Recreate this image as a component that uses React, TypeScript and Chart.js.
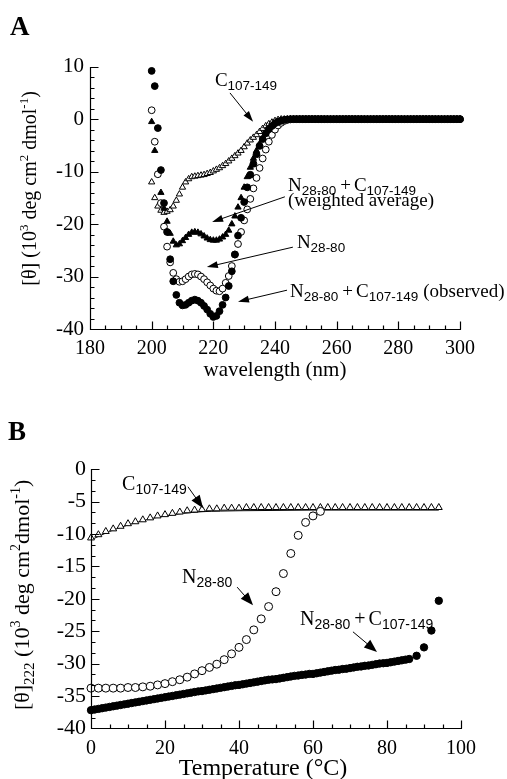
import React, { useEffect, useRef } from "react";
import { Chart, registerables } from "chart.js";

Chart.register(...registerables);

// ---------------- Panel A data (CD spectra, 200..300 nm, 1 nm steps) ----------------
const wavelengths = Array.from({ length: 101 }, (_, i) => 200 + i);

const c107Spectrum = [
  -12.0, -15.0, -16.6, -17.4, -17.8, -17.6, -17.3, -16.6, -15.5, -14.3,
  -13.0, -12.0, -11.4, -11.0, -10.9, -10.8, -10.7, -10.6, -10.4, -10.2,
  -9.9, -9.6, -9.3, -8.9, -8.5, -8.0, -7.5, -7.0, -6.5, -6.0,
  -5.3, -4.6, -4.0, -3.5, -3.0, -2.4, -1.8, -1.3, -0.9, -0.6,
  -0.3, -0.1, 0, 0, 0, 0, 0, 0, 0, 0,
  0, 0, 0, 0, 0, 0, 0, 0, 0, 0,
  0, 0, 0, 0, 0, 0, 0, 0, 0, 0,
  0, 0, 0, 0, 0, 0, 0, 0, 0, 0,
  0, 0, 0, 0, 0, 0, 0, 0, 0, 0,
  0, 0, 0, 0, 0, 0, 0, 0, 0, 0,
  0,
];

const weightedSpectrum = [
  -0.5, -6.0, -10.5, -14.0, -17.0, -19.5, -21.8, -23.3, -24.0, -23.8,
  -23.2, -22.6, -22.0, -21.6, -21.5, -21.6, -21.9, -22.3, -22.7, -23.0,
  -23.1, -23.1, -22.9, -22.5, -22.0, -21.2, -20.0, -18.5, -16.8, -15.0,
  -13.0, -11.0, -9.2, -7.5, -6.0, -4.7, -3.6, -2.7, -1.9, -1.3,
  -0.8, -0.5, -0.3, -0.15, -0.05, 0, 0, 0, 0, 0,
  0, 0, 0, 0, 0, 0, 0, 0, 0, 0,
  0, 0, 0, 0, 0, 0, 0, 0, 0, 0,
  0, 0, 0, 0, 0, 0, 0, 0, 0, 0,
  0, 0, 0, 0, 0, 0, 0, 0, 0, 0,
  0, 0, 0, 0, 0, 0, 0, 0, 0, 0,
  0,
];

const n2880Spectrum = [
  1.7, -4.3, -10.5, -16.0, -20.5, -24.3, -27.3, -29.3, -30.5, -31.0,
  -30.9, -30.5, -30.0, -29.6, -29.5, -29.6, -30.0, -30.5, -31.1, -31.7,
  -32.3, -32.7, -32.8, -32.3, -31.2, -29.9, -28.0, -25.8, -23.8, -21.5,
  -19.3, -17.2, -15.2, -13.2, -11.2, -9.3, -7.5, -5.8, -4.3, -3.0,
  -2.0, -1.2, -0.7, -0.35, -0.15, -0.05, 0, 0, 0, 0,
  0, 0, 0, 0, 0, 0, 0, 0, 0, 0,
  0, 0, 0, 0, 0, 0, 0, 0, 0, 0,
  0, 0, 0, 0, 0, 0, 0, 0, 0, 0,
  0, 0, 0, 0, 0, 0, 0, 0, 0, 0,
  0, 0, 0, 0, 0, 0, 0, 0, 0, 0,
  0,
];

const observedSpectrum = [
  9.2, 6.3, -1.7, -9.7, -16.0, -21.5, -26.7, -30.9, -33.5, -35.0,
  -35.5, -35.4, -35.0, -34.6, -34.4, -34.6, -35.0, -35.6, -36.3, -37.1,
  -37.7, -37.5, -36.6, -35.4, -34.0, -31.8, -29.0, -25.8, -22.2, -18.8,
  -15.8, -13.0, -10.6, -8.5, -6.7, -5.1, -3.8, -2.7, -1.9, -1.3,
  -0.8, -0.5, -0.3, -0.15, -0.05, 0, 0, 0, 0, 0,
  0, 0, 0, 0, 0, 0, 0, 0, 0, 0,
  0, 0, 0, 0, 0, 0, 0, 0, 0, 0,
  0, 0, 0, 0, 0, 0, 0, 0, 0, 0,
  0, 0, 0, 0, 0, 0, 0, 0, 0, 0,
  0, 0, 0, 0, 0, 0, 0, 0, 0, 0,
  0,
];

// ---------------- Panel B data (thermal melts at 222 nm) ----------------
const c107Temps = [
  0, 2, 4, 6, 8, 10, 12, 14, 16, 18, 20, 22, 24, 26, 28, 30, 32, 34, 36, 38,
  40, 42, 44, 46, 48, 50, 52, 54, 56, 58, 60, 62, 64, 66, 68, 70, 72, 74, 76,
  78, 80, 82, 84, 86, 88, 90, 92, 94,
];
const c107Melt = [
  -10.6, -10.1, -9.6, -9.2, -8.8, -8.4, -8.1, -7.8, -7.5, -7.2,
  -7.0, -6.8, -6.6, -6.4, -6.3, -6.2, -6.1, -6.1, -6.0, -6.0,
  -6.0, -5.9, -5.9, -5.9, -5.9, -5.9, -5.9, -5.9, -5.9, -5.9,
  -5.9, -5.9, -5.9, -5.9, -5.9, -5.9, -5.9, -5.9, -5.9, -5.9,
  -5.9, -5.9, -5.9, -5.9, -5.9, -5.9, -5.9, -5.9,
];
const c107FitTemps = [0, 5, 10, 15, 20, 25, 30, 35, 40, 50, 60, 70, 80, 94];
const c107FitValues = [-10.9, -9.6, -8.6, -7.8, -7.2, -6.8, -6.55, -6.45, -6.4, -6.35, -6.3, -6.3, -6.3, -6.3];

const n2880Temps = [
  0, 2, 4, 6, 8, 10, 12, 14, 16, 18, 20, 22, 24, 26, 28, 30, 32, 34, 36, 38,
  40, 42, 44, 46, 48, 50, 52, 54, 56, 58, 60, 62,
];
const n2880Melt = [
  -33.8, -33.8, -33.8, -33.8, -33.8, -33.7, -33.7, -33.6, -33.5, -33.3,
  -33.1, -32.8, -32.5, -32.1, -31.6, -31.1, -30.6, -30.1, -29.4, -28.5,
  -27.5, -26.3, -24.8, -23.1, -21.2, -18.9, -16.1, -13.0, -10.2, -8.2,
  -7.2, -6.5,
];

const observedTemps = [
  0, 1, 2, 3, 4, 5, 6, 7, 8, 9, 10, 11, 12, 13, 14, 15, 16, 17, 18, 19,
  20, 21, 22, 23, 24, 25, 26, 27, 28, 29, 30, 31, 32, 33, 34, 35, 36, 37, 38, 39,
  40, 41, 42, 43, 44, 45, 46, 47, 48, 49, 50, 51, 52, 53, 54, 55, 56, 57, 58, 59,
  60, 61, 62, 63, 64, 65, 66, 67, 68, 69, 70, 71, 72, 73, 74, 75, 76, 77, 78, 79,
  80, 81, 82, 83, 84, 85, 86, 88, 90, 92, 94,
];
const observedMelt = [
  -37.2, -37.1, -37.0, -36.9, -36.8, -36.7, -36.6, -36.5, -36.4, -36.3,
  -36.2, -36.1, -36.0, -35.9, -35.8, -35.7, -35.6, -35.5, -35.4, -35.3,
  -35.2, -35.1, -35.0, -34.9, -34.8, -34.7, -34.6, -34.5, -34.4, -34.3,
  -34.25, -34.15, -34.05, -33.95, -33.85, -33.75, -33.65, -33.55, -33.45, -33.35,
  -33.3, -33.2, -33.1, -33.0, -32.9, -32.8, -32.7, -32.6, -32.5, -32.45,
  -32.4, -32.3, -32.2, -32.1, -32.0, -31.9, -31.85, -31.75, -31.7, -31.6,
  -31.6, -31.5, -31.4, -31.3, -31.2, -31.1, -31.0, -30.95, -30.85, -30.8,
  -30.7, -30.6, -30.5, -30.45, -30.35, -30.3, -30.2, -30.1, -30.0, -29.95,
  -29.9, -29.8, -29.7, -29.6, -29.5, -29.4, -29.3, -28.8, -27.5, -24.9,
  -20.3,
];

// ---------------- drawing helpers ----------------
const SERIF = '"Liberation Serif", "Times New Roman", serif';
const SANS = '"Liberation Sans", Arial, sans-serif';

type Seg = { t: string; f: string; dy?: number; dx?: number };

function drawRich(
  ctx: CanvasRenderingContext2D,
  segs: Seg[],
  x: number,
  y: number,
  align: "left" | "center",
  rot = 0
) {
  ctx.save();
  ctx.translate(x, y);
  if (rot) ctx.rotate(rot);
  ctx.fillStyle = "#000";
  ctx.textAlign = "left";
  ctx.textBaseline = "alphabetic";
  let total = 0;
  for (const s of segs) {
    ctx.font = s.f;
    total += (s.dx || 0) + ctx.measureText(s.t).width;
  }
  let cx = align === "center" ? -total / 2 : 0;
  for (const s of segs) {
    ctx.font = s.f;
    cx += s.dx || 0;
    ctx.fillText(s.t, cx, s.dy || 0);
    cx += ctx.measureText(s.t).width;
  }
  ctx.restore();
}

function drawArrow(
  ctx: CanvasRenderingContext2D,
  x1: number,
  y1: number,
  x2: number,
  y2: number,
  head: number,
  hw: number
) {
  const a = Math.atan2(y2 - y1, x2 - x1);
  const c = Math.cos(a);
  const s = Math.sin(a);
  ctx.save();
  ctx.strokeStyle = "#000";
  ctx.fillStyle = "#000";
  ctx.lineWidth = 1;
  ctx.beginPath();
  ctx.moveTo(x1, y1);
  ctx.lineTo(x2 - c * head * 0.7, y2 - s * head * 0.7);
  ctx.stroke();
  ctx.beginPath();
  ctx.moveTo(x2, y2);
  ctx.lineTo(x2 - c * head - s * hw, y2 - s * head + c * hw);
  ctx.lineTo(x2 - c * head + s * hw, y2 - s * head - c * hw);
  ctx.closePath();
  ctx.fill();
  ctx.restore();
}

type AxisSpec = {
  xMin: number;
  xMax: number;
  xMajor: number;
  xMinor: number;
  yMin: number;
  yMax: number;
  yMajor: number;
  yMinor: number;
};

function drawAxes(chart: any, spec: AxisSpec) {
  const { ctx, chartArea: ca, scales } = chart;
  const xs = scales.x;
  const ys = scales.y;
  const L = Math.round(ca.left) + 0.5;
  const B = Math.round(ca.bottom) + 0.5;
  ctx.save();
  ctx.strokeStyle = "#000";
  ctx.lineWidth = 1.2;
  ctx.beginPath();
  ctx.moveTo(L, Math.round(ca.top));
  ctx.lineTo(L, B);
  ctx.lineTo(Math.round(ca.right) + 1, B);
  const nx = Math.round((spec.xMax - spec.xMin) / spec.xMinor);
  for (let i = 0; i <= nx; i++) {
    const v = spec.xMin + i * spec.xMinor;
    const isMajor = Math.abs(v / spec.xMajor - Math.round(v / spec.xMajor)) < 1e-6;
    const px = Math.round(xs.getPixelForValue(v)) + 0.5;
    ctx.moveTo(px, B);
    ctx.lineTo(px, B - (isMajor ? 8 : 4));
  }
  const ny = Math.round((spec.yMax - spec.yMin) / spec.yMinor);
  for (let i = 0; i <= ny; i++) {
    const v = spec.yMin + i * spec.yMinor;
    const isMajor = Math.abs(v / spec.yMajor - Math.round(v / spec.yMajor)) < 1e-6;
    const py = Math.round(ys.getPixelForValue(v)) + 0.5;
    ctx.moveTo(L, py);
    ctx.lineTo(L + (isMajor ? 8 : 4), py);
  }
  ctx.stroke();
  ctx.restore();
}

type Label = { segs: Seg[]; x: number; y: number };
type Arrow = { x1: number; y1: number; x2: number; y2: number };

function overlayPlugin(
  spec: AxisSpec,
  labels: Label[],
  arrows: Arrow[],
  head: number,
  hw: number,
  extra: (chart: any) => void
) {
  return {
    id: "overlay",
    afterDraw(chart: any) {
      drawAxes(chart, spec);
      const { ctx, scales } = chart;
      const X = (v: number) => scales.x.getPixelForValue(v);
      const Y = (v: number) => scales.y.getPixelForValue(v);
      for (const l of labels) drawRich(ctx, l.segs, X(l.x), Y(l.y), "left");
      for (const a of arrows) drawArrow(ctx, X(a.x1), Y(a.y1), X(a.x2), Y(a.y2), head, hw);
      extra(chart);
    },
  };
}

const annA = `19px ${SERIF}`;
const subA = `13.5px ${SANS}`;
const annB = `20px ${SERIF}`;
const subB = `14px ${SANS}`;

const labelsA: Label[] = [
  { x: 220.5, y: 6.3, segs: [{ t: "C", f: annA }, { t: "107-149", f: subA, dy: 4 }] },
  {
    x: 244.2,
    y: -13.7,
    segs: [
      { t: "N", f: annA },
      { t: "28-80", f: subA, dy: 4 },
      { t: "+", f: annA, dx: 4 },
      { t: "C", f: annA, dx: 3 },
      { t: "107-149", f: subA, dy: 4 },
    ],
  },
  { x: 244.2, y: -16.6, segs: [{ t: "(weighted average)", f: annA }] },
  { x: 247.1, y: -24.6, segs: [{ t: "N", f: annA }, { t: "28-80", f: subA, dy: 4 }] },
  {
    x: 244.9,
    y: -33.9,
    segs: [
      { t: "N", f: annA },
      { t: "28-80", f: subA, dy: 4 },
      { t: "+", f: annA, dx: 4 },
      { t: "C", f: annA, dx: 3 },
      { t: "107-149", f: subA, dy: 4 },
      { t: "(observed)", f: annA, dx: 5 },
    ],
  },
];
const arrowsA: Arrow[] = [
  { x1: 225.4, y1: 5.0, x2: 232.9, y2: -0.5 },
  { x1: 243.2, y1: -14.8, x2: 219.6, y2: -19.6 },
  { x1: 245.8, y1: -24.4, x2: 217.9, y2: -28.2 },
  { x1: 243.9, y1: -32.6, x2: 228.0, y2: -34.8 },
];

const labelsB: Label[] = [
  { x: 8.4, y: -3.2, segs: [{ t: "C", f: annB }, { t: "107-149", f: subB, dy: 4 }] },
  { x: 24.6, y: -17.6, segs: [{ t: "N", f: annB }, { t: "28-80", f: subB, dy: 4 }] },
  {
    x: 56.5,
    y: -24.0,
    segs: [
      { t: "N", f: annB },
      { t: "28-80", f: subB, dy: 4 },
      { t: "+", f: annB, dx: 4 },
      { t: "C", f: annB, dx: 3 },
      { t: "107-149", f: subB, dy: 4 },
    ],
  },
];
const arrowsB: Arrow[] = [
  { x1: 26.2, y1: -2.7, x2: 30.3, y2: -6.0 },
  { x1: 39.5, y1: -18.2, x2: 43.8, y2: -21.0 },
  { x1: 70.8, y1: -25.1, x2: 77.3, y2: -28.2 },
];

function pts(xs: number[], ys: number[]) {
  return xs.map((x, i) => ({ x, y: ys[i] }));
}

function markerSet(label: string, data: any[], style: string, filled: boolean, r: number) {
  return {
    label,
    data,
    showLine: false,
    pointStyle: style,
    pointRadius: r,
    pointBorderWidth: 1,
    pointBorderColor: "#000",
    pointBackgroundColor: filled ? "#000" : "#fff",
    clip: false as any,
  };
}

function baseOptions(
  pad: any,
  yWidth: number,
  xHeight: number,
  xr: [number, number, number],
  yr: [number, number, number],
  xPad: number,
  yPad: number,
  yFont: number
) {
  return {
    responsive: false,
    animation: false as const,
    devicePixelRatio: 1,
    layout: { padding: pad },
    plugins: { legend: { display: false }, tooltip: { enabled: false } },
    events: [] as any[],
    scales: {
      x: {
        type: "linear" as const,
        min: xr[0],
        max: xr[1],
        grid: { display: false, drawTicks: false },
        border: { display: false },
        ticks: {
          stepSize: xr[2],
          autoSkip: false,
          maxRotation: 0,
          padding: xPad,
          color: "#000",
          font: { family: SERIF, size: 20 },
        },
        afterFit: (s: any) => {
          s.height = xHeight;
        },
      },
      y: {
        type: "linear" as const,
        min: yr[0],
        max: yr[1],
        grid: { display: false, drawTicks: false },
        border: { display: false },
        ticks: {
          stepSize: yr[2],
          autoSkip: false,
          padding: yPad,
          color: "#000",
          font: { family: SERIF, size: yFont },
        },
        afterFit: (s: any) => {
          s.width = yWidth;
        },
      },
    },
  };
}

export default function App() {
  const refA = useRef<HTMLCanvasElement>(null);
  const refB = useRef<HTMLCanvasElement>(null);

  useEffect(() => {
    const extraA = (chart: any) => {
      const { ctx, chartArea: ca, scales } = chart;
      drawRich(ctx, [{ t: "A", f: `bold 27px ${SERIF}` }], 10, 35, "left");
      drawRich(ctx, [{ t: "wavelength (nm)", f: `21px ${SERIF}` }], (ca.left + ca.right) / 2, ca.bottom + 47, "center");
      const m = `20px ${SERIF}`;
      const sp = `13px ${SERIF}`;
      drawRich(
        ctx,
        [
          { t: "[θ] (10", f: m },
          { t: "3", f: sp, dy: -8 },
          { t: " deg cm", f: m },
          { t: "2", f: sp, dy: -8 },
          { t: " dmol", f: m },
          { t: "-1", f: sp, dy: -8 },
          { t: ")", f: m },
        ],
        ca.left - 54,
        scales.y.getPixelForValue(-13.2),
        "center",
        -Math.PI / 2
      );
    };
    const extraB = (chart: any) => {
      const { ctx, chartArea: ca, scales } = chart;
      drawRich(ctx, [{ t: "B", f: `bold 27px ${SERIF}` }], 8, 50, "left");
      drawRich(ctx, [{ t: "Temperature (°C)", f: `24px ${SERIF}` }], scales.x.getPixelForValue(46.5), ca.bottom + 46.5, "center");
      const m = `22px ${SERIF}`;
      const sp = `14px ${SERIF}`;
      const sb = `15px ${SERIF}`;
      drawRich(
        ctx,
        [
          { t: "[θ]", f: m },
          { t: "222", f: sb, dy: 5 },
          { t: " (10", f: m },
          { t: "3", f: sp, dy: -9 },
          { t: " deg cm", f: m },
          { t: "2", f: sp, dy: -9 },
          { t: "dmol", f: m },
          { t: "-1", f: sp, dy: -9 },
          { t: ")", f: m },
        ],
        ca.left - 62,
        scales.y.getPixelForValue(-19.4),
        "center",
        -Math.PI / 2
      );
    };

    const chartA = new Chart(refA.current as HTMLCanvasElement, {
      type: "scatter",
      data: {
        datasets: [
          markerSet("N28-80 + C107-149 (observed)", pts(wavelengths, observedSpectrum), "circle", true, 3.4),
          markerSet("N28-80", pts(wavelengths, n2880Spectrum), "circle", false, 3.4),
          markerSet("N28-80 + C107-149 (weighted average)", pts(wavelengths, weightedSpectrum), "triangle", true, 3.6),
          markerSet("C107-149", pts(wavelengths, c107Spectrum), "triangle", false, 3.6),
        ] as any,
      },
      options: baseOptions(
        { left: 0, right: 47, top: 66.7, bottom: 26 },
        90,
        35,
        [180, 300, 20],
        [-40, 10, 10],
        8,
        6,
        21
      ) as any,
      plugins: [
        overlayPlugin(
          { xMin: 180, xMax: 300, xMajor: 20, xMinor: 5, yMin: -40, yMax: 10, yMajor: 10, yMinor: 2 },
          labelsA,
          arrowsA,
          11,
          3.5,
          extraA
        ),
      ],
    });

    const chartB = new Chart(refB.current as HTMLCanvasElement, {
      type: "scatter",
      data: {
        datasets: [
          markerSet("N28-80 + C107-149", pts(observedTemps, observedMelt), "circle", true, 3.7),
          markerSet("N28-80", pts(n2880Temps, n2880Melt), "circle", false, 4),
          markerSet("C107-149", pts(c107Temps, c107Melt), "triangle", false, 4),
          {
            label: "C107-149 fit",
            data: pts(c107FitTemps, c107FitValues),
            showLine: true,
            borderColor: "#000",
            borderWidth: 1,
            pointRadius: 0,
            cubicInterpolationMode: "monotone",
            clip: false,
          },
        ] as any,
      },
      options: baseOptions(
        { left: 0, right: 46, top: 79.3, bottom: 10.7 },
        91,
        40,
        [0, 100, 20],
        [-40, 0, 5],
        8,
        5,
        22
      ) as any,
      plugins: [
        overlayPlugin(
          { xMin: 0, xMax: 100, xMajor: 20, xMinor: 5, yMin: -40, yMax: 0, yMajor: 5, yMinor: 5 / 3 },
          labelsB,
          arrowsB,
          13,
          5,
          extraB
        ),
      ],
    });

    return () => {
      chartA.destroy();
      chartB.destroy();
    };
  }, []);

  return (
    <div style={{ position: "absolute", left: 0, top: 0, width: 507, height: 779, background: "#fff" }}>
      <canvas
        ref={refA}
        width={507}
        height={390}
        style={{ position: "absolute", left: 0, top: 0, width: 507, height: 390 }}
      />
      <canvas
        ref={refB}
        width={507}
        height={389}
        style={{ position: "absolute", left: 0, top: 390, width: 507, height: 389 }}
      />
    </div>
  );
}
